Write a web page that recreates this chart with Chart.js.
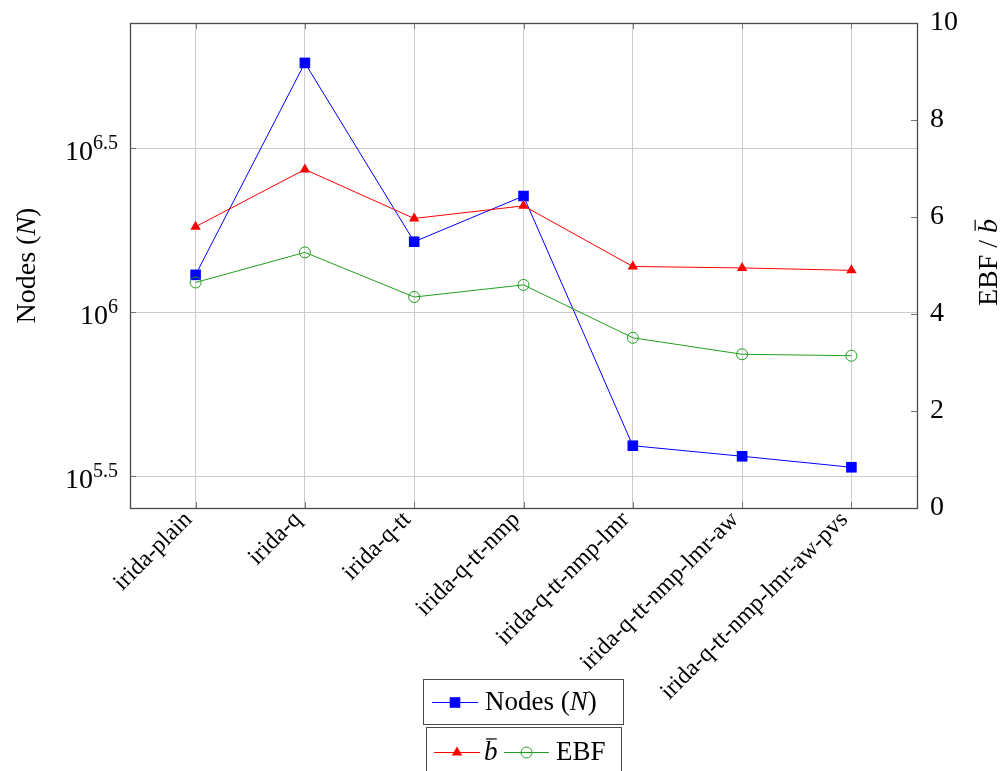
<!DOCTYPE html>
<html><head><meta charset="utf-8">
<script src="https://cdn.jsdelivr.net/npm/chart.js@4/dist/chart.umd.min.js"></script>
<style>html,body{margin:0;padding:0;background:#fff;}canvas{display:block;}</style>
</head><body>
<canvas id="c" width="1005" height="771"></canvas>
<script>
const categories = ['irida-plain','irida-q','irida-q-tt','irida-q-tt-nmp','irida-q-tt-nmp-lmr','irida-q-tt-nmp-lmr-aw','irida-q-tt-nmp-lmr-aw-pvs'];
const nodes = [1.30e6, 5.75e6, 1.64e6, 2.26e6, 3.92e5, 3.64e5, 3.37e5];
const bbar = [5.80, 6.98, 5.97, 6.23, 4.98, 4.95, 4.90];
const ebf = [4.65, 5.27, 4.35, 4.60, 3.51, 3.17, 3.14];
const leftTickExps = [5.5, 6, 6.5];
const rightTicks = [0, 2, 4, 6, 8, 10];
const xRange = [-0.6, 6.6];
const leftRangeExp = [5.4035, 6.8813];
const rightRange = [0, 10];

const FAM = "'Liberation Serif', 'Times New Roman', serif";
const BLUE = '#0000ff', RED = '#ff0000', GREEN = '#1f9f1f';
const GRID = '#cccccc', FRAME = '#4a4a4a', TICK = '#777777';

const toXY = arr => arr.map((v, i) => ({x: i, y: v}));

function drawMarker(ctx, style, x, y, r, fill, stroke) {
  ctx.save();
  ctx.beginPath();
  if (style === 'rect') {
    const s = Math.SQRT1_2 * r;
    ctx.rect(x - s, y - s, 2 * s, 2 * s);
    ctx.fillStyle = fill; ctx.fill();
  } else if (style === 'triangle') {
    for (let k = 0; k < 3; k++) {
      const a = k * 2 * Math.PI / 3;
      const px = x + Math.sin(a) * r, py = y - Math.cos(a) * r;
      if (k === 0) ctx.moveTo(px, py); else ctx.lineTo(px, py);
    }
    ctx.closePath();
    ctx.fillStyle = fill; ctx.fill();
  } else {
    ctx.arc(x, y, r, 0, 2 * Math.PI);
    ctx.strokeStyle = stroke; ctx.lineWidth = 1; ctx.stroke();
  }
  ctx.restore();
}

function richWidth(ctx, parts, size) {
  let w = 0;
  for (const p of parts) {
    ctx.font = (p.italic ? 'italic ' : '') + size + 'px ' + FAM;
    w += ctx.measureText(p.t).width;
  }
  return w;
}
function drawRich(ctx, parts, x, y, size) {
  let cx = x;
  for (const p of parts) {
    ctx.font = (p.italic ? 'italic ' : '') + size + 'px ' + FAM;
    ctx.fillText(p.t, cx, y);
    const w = ctx.measureText(p.t).width;
    if (p.bar) {
      ctx.save();
      ctx.strokeStyle = '#000';
      ctx.lineWidth = 1.2;
      ctx.beginPath();
      ctx.moveTo(cx + w * 0.15, y - size * 0.78);
      ctx.lineTo(cx + w * 0.95, y - size * 0.78);
      ctx.stroke();
      ctx.restore();
    }
    cx += w;
  }
  return cx - x;
}

const zeroPad = s => { s.paddingTop = 0; s.paddingBottom = 0; s.paddingLeft = 0; s.paddingRight = 0; };

const decor = {
  id: 'decor',
  afterDraw(chart) {
    const ctx = chart.ctx;
    const a = chart.chartArea;
    const xs = chart.scales.x, yl = chart.scales.y, yr = chart.scales.y2;
    ctx.save();
    ctx.strokeStyle = TICK; ctx.lineWidth = 1;
    ctx.beginPath();
    for (let i = 0; i < categories.length; i++) {
      const px = Math.round(xs.getPixelForValue(i)) + 0.5;
      ctx.moveTo(px, a.top); ctx.lineTo(px, a.top + 6);
      ctx.moveTo(px, a.bottom); ctx.lineTo(px, a.bottom - 6);
    }
    for (const e of leftTickExps) {
      const py = Math.round(yl.getPixelForValue(Math.pow(10, e))) + 0.5;
      ctx.moveTo(a.left, py); ctx.lineTo(a.left + 6, py);
    }
    for (const v of rightTicks) {
      const py = Math.round(yr.getPixelForValue(v)) + 0.5;
      ctx.moveTo(a.right, py); ctx.lineTo(a.right - 6, py);
    }
    ctx.stroke();
    ctx.strokeStyle = FRAME; ctx.lineWidth = 1.3;
    ctx.strokeRect(Math.round(a.left) + 0.5, Math.round(a.top) + 0.5, Math.round(a.right - a.left), Math.round(a.bottom - a.top));

    ctx.fillStyle = '#000';
    ctx.textBaseline = 'alphabetic';
    for (const e of leftTickExps) {
      const py = yl.getPixelForValue(Math.pow(10, e));
      const sup = String(e);
      ctx.font = '20px ' + FAM;
      const ws = ctx.measureText(sup).width;
      ctx.font = '28px ' + FAM;
      const wb = ctx.measureText('10').width;
      const right = a.left - 12;
      ctx.textAlign = 'left';
      ctx.fillText('10', right - ws - wb, py + 12);
      ctx.font = '20px ' + FAM;
      ctx.fillText(sup, right - ws, py + 1);
    }

    ctx.textAlign = 'left';
    const leftTitle = [{t: 'Nodes ('}, {t: 'N', italic: true}, {t: ')'}];
    ctx.save();
    ctx.translate(28, (a.top + a.bottom) / 2);
    ctx.rotate(-Math.PI / 2);
    ctx.textBaseline = 'middle';
    let w = richWidth(ctx, leftTitle, 28);
    drawRich(ctx, leftTitle, -w / 2, 0, 28);
    ctx.restore();

    const rightTitle = [{t: 'EBF / '}, {t: 'b', italic: true, bar: true}];
    ctx.save();
    ctx.translate(997, (a.top + a.bottom) / 2 - 3);
    ctx.rotate(-Math.PI / 2);
    ctx.textBaseline = 'alphabetic';
    w = richWidth(ctx, rightTitle, 28);
    drawRich(ctx, rightTitle, -w / 2, 0, 28);
    ctx.restore();

    const ds = chart.data.datasets;
    ctx.strokeStyle = FRAME; ctx.lineWidth = 1;
    ctx.strokeRect(423.5, 679.5, 200, 45);
    ctx.strokeRect(426.5, 727.5, 195, 70);
    function legLine(x0, x1, y, d) {
      ctx.save();
      ctx.strokeStyle = d.borderColor; ctx.lineWidth = 1;
      ctx.beginPath(); ctx.moveTo(x0, y + 0.5); ctx.lineTo(x1, y + 0.5); ctx.stroke();
      ctx.restore();
      drawMarker(ctx, d.pointStyle, (x0 + x1) / 2, y + 0.5, d.pointRadius, d.pointBackgroundColor, d.borderColor);
    }
    ctx.fillStyle = '#000';
    ctx.textBaseline = 'alphabetic';
    legLine(432, 478, 702, ds[0]);
    drawRich(ctx, [{t: 'Nodes ('}, {t: 'N', italic: true}, {t: ')'}], 485, 710, 27);
    legLine(434, 480, 752, ds[1]);
    drawRich(ctx, [{t: 'b', italic: true, bar: true}], 484, 760, 27);
    legLine(504, 549, 752, ds[2]);
    drawRich(ctx, [{t: 'EBF'}], 556, 760, 27);
    ctx.restore();
  }
};

new Chart(document.getElementById('c'), {
  type: 'line',
  data: {
    datasets: [
      {label: 'Nodes (N)', data: toXY(nodes), yAxisID: 'y', borderColor: BLUE, backgroundColor: BLUE,
       pointBackgroundColor: BLUE, pointBorderColor: BLUE, pointBorderWidth: 0, pointStyle: 'rect', pointRadius: 7.5, borderWidth: 1, order: 3},
      {label: 'b', data: toXY(bbar), yAxisID: 'y2', borderColor: RED, backgroundColor: RED,
       pointBackgroundColor: RED, pointBorderColor: RED, pointBorderWidth: 0, pointStyle: 'triangle', pointRadius: 6, borderWidth: 1, order: 2},
      {label: 'EBF', data: toXY(ebf), yAxisID: 'y2', borderColor: GREEN, backgroundColor: 'rgba(0,0,0,0)',
       pointBackgroundColor: 'rgba(0,0,0,0)', pointBorderColor: GREEN, pointBorderWidth: 1, pointStyle: 'circle', pointRadius: 5.5, borderWidth: 1, order: 1}
    ]
  },
  options: {
    responsive: false,
    animation: false,
    events: [],
    layout: {padding: {top: 23, left: 0, right: 0, bottom: 0}},
    plugins: {legend: {display: false}, tooltip: {enabled: false}},
    scales: {
      x: {
        type: 'linear', position: 'bottom', min: xRange[0], max: xRange[1],
        afterBuildTicks: s => { s.ticks = categories.map((c, i) => ({value: i})); },
        afterFit: s => { s.height = 263; zeroPad(s); },
        ticks: {autoSkip: false, minRotation: 45, maxRotation: 45, padding: -2, labelOffset: -7, color: '#000',
                font: {family: FAM, size: 24}, callback: v => categories[v] ?? ''},
        grid: {color: GRID, lineWidth: 1, drawTicks: false},
        border: {display: false}
      },
      y: {
        type: 'logarithmic', position: 'left',
        min: Math.pow(10, leftRangeExp[0]), max: Math.pow(10, leftRangeExp[1]),
        afterBuildTicks: s => { s.ticks = leftTickExps.map(e => ({value: Math.pow(10, e)})); },
        afterFit: s => { s.width = 130; zeroPad(s); },
        ticks: {display: false},
        grid: {color: GRID, lineWidth: 1, drawTicks: false},
        border: {display: false}
      },
      y2: {
        type: 'linear', position: 'right', min: rightRange[0], max: rightRange[1],
        afterBuildTicks: s => { s.ticks = rightTicks.map(v => ({value: v})); },
        afterFit: s => { s.width = 88; zeroPad(s); },
        ticks: {color: '#000', padding: 13, font: {family: FAM, size: 28}},
        grid: {display: false, drawTicks: false},
        border: {display: false}
      }
    }
  },
  plugins: [decor]
});
</script>
</body></html>
